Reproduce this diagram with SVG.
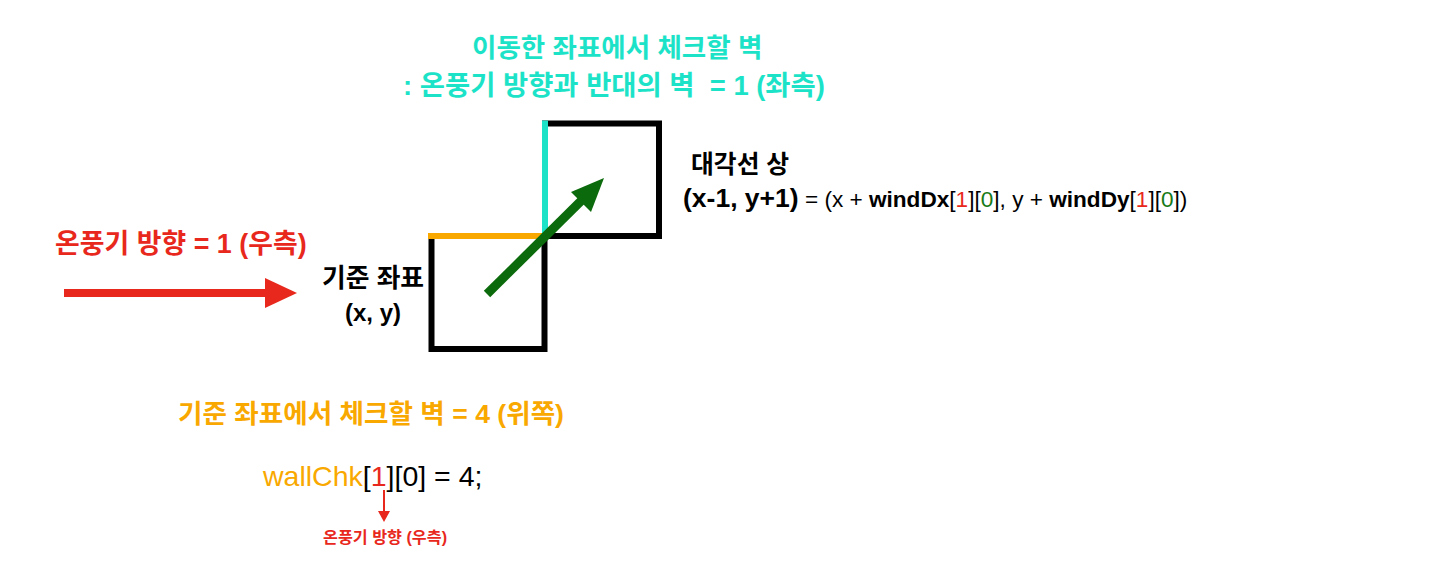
<svg xmlns="http://www.w3.org/2000/svg" width="1440" height="577" viewBox="0 0 1440 577">
<defs>
<style>
text{font-family:"Liberation Sans","Noto Sans CJK KR",sans-serif;white-space:pre;}
.b{font-weight:bold;}
.cy{fill:#1CE3C8;}
.or{fill:#F9A800;}
.rd{fill:#E8281C;}
.gr{fill:#177A17;}
.bk{fill:#000;}
.sq{fill:none;stroke:#000;stroke-width:6;}
</style>
</defs>
<rect width="1440" height="577" fill="#fff"/>
<g id="cells">
<rect class="sq" x="431.5" y="236" width="113" height="113"/>
<rect class="sq" x="545" y="123.5" width="114" height="112.5"/>
</g>
<g id="walls">
<line x1="428" y1="236" x2="545" y2="236" stroke="#F9A800" stroke-width="6"/>
<line x1="545" y1="120.5" x2="545" y2="236" stroke="#1CE3C8" stroke-width="6"/>
</g>
<g id="connectors">
<line x1="487" y1="294" x2="585" y2="197" stroke="#0B6A0B" stroke-width="9"/>
<polygon points="604,178 571,192 591,212" fill="#0B6A0B"/>
<line x1="64" y1="293" x2="266" y2="293" stroke="#E8281C" stroke-width="8"/>
<polygon points="297,293 265,278 265,308" fill="#E8281C"/>
<line x1="384" y1="490" x2="384" y2="512" stroke="#E8281C" stroke-width="2"/>
<polygon points="384,522 378,511 390,511" fill="#E8281C"/>
</g>
<g id="title">
<text class="b cy" x="472" y="57" font-size="26.5">이동한 좌표에서 체크할 벽</text>
<text class="b cy" x="403" y="95" font-size="27.4" xml:space="preserve">: 온풍기 방향과 반대의 벽  = 1 (좌측)</text>
</g>
<g id="diag-label">
<text class="b bk" x="691" y="173" font-size="24.8">대각선 상</text>
<text x="683" y="207" font-size="22.6" class="bk"><tspan class="b" font-size="26.5">(x-1, y+1)</tspan> = (x + <tspan class="b">windDx</tspan>[<tspan class="rd">1</tspan>][<tspan class="gr">0</tspan>], y + <tspan class="b">windDy</tspan>[<tspan class="rd">1</tspan>][<tspan class="gr">0</tspan>])</text>
</g>
<g id="wind-label">
<text class="b rd" x="55" y="253" font-size="26.9">온풍기 방향 = 1 (우측)</text>
</g>
<g id="base-label">
<text class="b bk" x="322" y="287" font-size="25.8">기준 좌표</text>
<text class="b bk" x="345" y="321" font-size="24">(x, y)</text>
</g>
<g id="base-wall">
<text class="b or" x="178" y="423" font-size="26.6">기준 좌표에서 체크할 벽 = 4 (위쪽)</text>
</g>
<g id="code">
<text x="263" y="486" font-size="28.5" class="bk"><tspan class="or">wallChk</tspan>[<tspan class="rd">1</tspan>][0] = 4;</text>
<text class="b rd" x="323" y="543" font-size="16.2">온풍기 방향 (우측)</text>
</g>
</svg>
